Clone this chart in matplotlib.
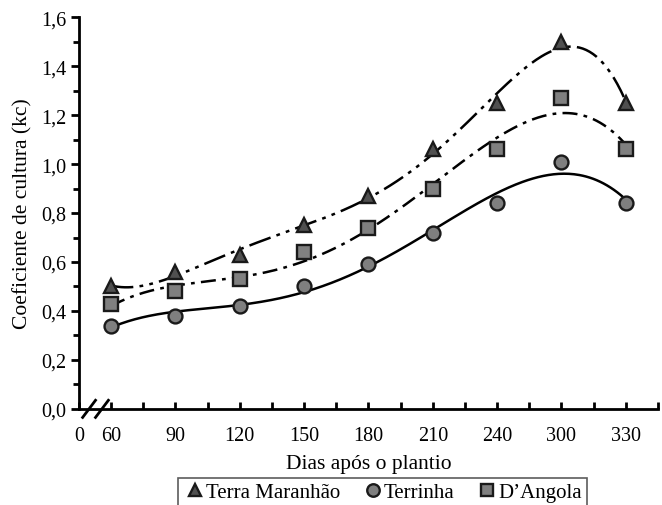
import numpy as np
import matplotlib
matplotlib.use("Agg")
import matplotlib.pyplot as plt
from matplotlib.lines import Line2D

plt.rcParams['font.family'] = ['Liberation Serif', 'DejaVu Serif']

days = [60, 90, 120, 150, 180, 210, 240, 300, 330]
tick_labels = ['0', '60', '90', '120', '150', '180', '210', '240', '300', '330']
terra_maranhao = [0.50, 0.56, 0.63, 0.75, 0.87, 1.06, 1.25, 1.50, 1.25]
terrinha = [0.34, 0.38, 0.42, 0.50, 0.59, 0.72, 0.84, 1.01, 0.84]
dangola = [0.43, 0.48, 0.53, 0.64, 0.74, 0.90, 1.06, 1.27, 1.06]

fig = plt.figure(figsize=(6.62, 5.06), dpi=100)
ax = fig.add_axes([0.119, 0.190, 0.875, 0.774])

# categorical positions: 0 at origin, categories at odd half-steps
pos = np.arange(len(days)) * 2 + 1
xs = np.linspace(pos[0], pos[-1], 300)

series = [
    (terra_maranhao, '^', '#505050', (0, (9, 2.5, 1.5, 2.5, 1.5, 2.5)), 'Terra Maranhão', 5),
    (terrinha, 'o', '#7f7f7f', '-', 'Terrinha', 4),
    (dangola, 's', '#808080', (0, (6, 2.5, 1.5, 2.5)), 'D\u2019Angola', 4),
]
handles = []
for vals, mk, fc, ls, lab, deg in series:
    coef = np.polyfit(pos, vals, deg)
    ax.plot(xs, np.polyval(coef, xs), color='black', lw=1.8, linestyle=ls, zorder=2)
    ax.plot(pos, vals, linestyle='none', marker=mk, markersize=10,
            markerfacecolor=fc, markeredgecolor='#1a1a1a', markeredgewidth=1.7, zorder=3)
    handles.append(Line2D([], [], linestyle='none', marker=mk, markersize=9,
                          markerfacecolor=fc, markeredgecolor='#1a1a1a',
                          markeredgewidth=1.7, label=lab))

ax.set_xlim(0, 18)
ax.set_ylim(0, 1.6)
ax.spines['top'].set_visible(False)
ax.spines['right'].set_visible(False)
for s in ['left', 'bottom']:
    ax.spines[s].set_linewidth(2)

ax.set_xticks(np.concatenate([[0], pos]))
ax.set_xticklabels(tick_labels)
ax.set_xticks(np.arange(0, 19), minor=True)
ax.tick_params(axis='x', which='both', direction='in', length=5, width=2, labelsize=14.5, pad=12)
ax.set_yticks(np.arange(0, 1.61, 0.2))
ax.set_yticklabels([f'{v:.1f}'.replace('.', ',') for v in np.arange(0, 1.61, 0.2)])
ax.set_yticks(np.arange(0, 1.61, 0.1), minor=True)
ax.tick_params(axis='y', which='major', direction='out', length=6, width=2, labelsize=14.5, pad=3)
ax.tick_params(axis='y', which='minor', direction='out', length=4, width=2)

# axis break marks
for x0 in [0.32, 0.72]:
    ax.plot([x0 - 0.2, x0 + 0.2], [-0.035, 0.035], color='black', lw=2,
            clip_on=False, zorder=5)

ax.set_xlabel('Dias após o plantio', fontsize=15.5, labelpad=7)
ax.set_ylabel('Coeficiente de cultura (kc)', fontsize=15.5, labelpad=6)

leg = fig.legend(handles=handles, loc='upper center', bbox_to_anchor=(0.578, 0.054),
                 ncol=3, frameon=True, fancybox=False, fontsize=15,
                 handletextpad=0.0, columnspacing=1.0, borderpad=0.25,
                 handlelength=1.1, borderaxespad=0)
leg.get_frame().set_edgecolor('#333333')
leg.get_frame().set_linewidth(1.2)

fig.savefig('out.png', dpi=100)
